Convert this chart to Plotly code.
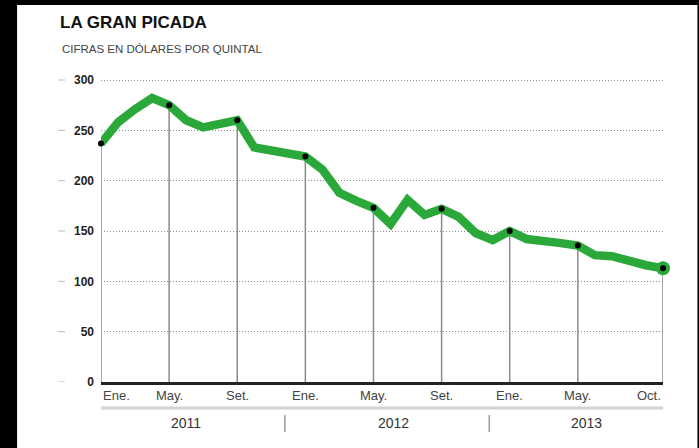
import plotly.graph_objects as go

# ---- data ----
values = [237, 258, 271, 282, 275, 260, 253, 256, 260, 233, 230, 225,
          224, 211, 188, 180, 173, 157, 181, 166, 172, 164, 148, 141,
          150, 142, 139, 138, 135.5, 126, 125, 120, 116, 113]
month_idx = list(range(len(values)))
tick_idx = [0, 4, 8, 12, 16, 20, 24, 28, 33]
tick_text = ["Ene.", "May.", "Set.", "Ene.", "May.", "Set.", "Ene.", "May.", "Oct."]
year_labels = ["2011", "2012", "2013"]
year_centers = [5.0, 17.2, 28.5]
year_breaks = [10.8, 22.8]
y_ticks = [0, 50, 100, 150, 200, 250, 300]

GREEN = "#2aa83a"
FONT = "Liberation Sans, Arial, sans-serif"

fig = go.Figure()

# gray stems from baseline to labelled months
sx, sy = [], []
for i in tick_idx:
    sx += [month_idx[i], month_idx[i], None]
    sy += [0, values[i], None]
fig.add_trace(go.Scatter(x=sx, y=sy, mode="lines", line=dict(color="#8a8a8a", width=1.5),
                         hoverinfo="skip", cliponaxis=False))

fig.add_trace(go.Scatter(x=month_idx, y=values, mode="lines",
                         line=dict(color=GREEN, width=8.5), cliponaxis=False))
fig.add_trace(go.Scatter(x=[month_idx[-1]], y=[values[-1]], mode="markers",
                         marker=dict(color=GREEN, size=14), cliponaxis=False))
fig.add_trace(go.Scatter(x=[month_idx[i] for i in tick_idx], y=[values[i] for i in tick_idx],
                         mode="markers", marker=dict(color="black", size=6), cliponaxis=False))

W, H = 699, 448
YTOP = 302
ml, mr, mb = 101, 35.5, 66
ph_per = 302 / 300.0          # pixels per unit
mt = 80 - (YTOP - 300) * ph_per
pw = W - ml - mr
ph = H - mt - mb


def px_x(p):
    return (p - ml) / pw


def px_y(p):
    return (H - mb - p) / ph


shapes = []
# white panel over black page
shapes.append(dict(type="rect", xref="paper", yref="paper", layer="below",
                   x0=px_x(17), x1=px_x(698), y0=px_y(470), y1=px_y(5),
                   fillcolor="white", line=dict(width=0)))
# small dashes left of y labels
for v in y_ticks:
    shapes.append(dict(type="line", xref="paper", yref="y",
                       x0=px_x(58), x1=px_x(65), y0=v, y1=v,
                       line=dict(color="#bbbbbb", width=1)))
# light gray rule under month labels
shapes.append(dict(type="line", xref="x", yref="paper",
                   x0=0, x1=month_idx[-1], y0=px_y(408), y1=px_y(408),
                   line=dict(color="#d2d2d2", width=3)))
# year separators
for b in year_breaks:
    shapes.append(dict(type="line", xref="x", yref="paper",
                       x0=b, x1=b, y0=px_y(415), y1=px_y(432),
                       line=dict(color="#9a9a9a", width=1.5)))

annotations = []
for k, (i, t) in enumerate(zip(tick_idx, tick_text)):
    anchor = "left" if k == 0 else ("right" if k == len(tick_idx) - 1 else "center")
    annotations.append(dict(x=month_idx[i], y=0, xref="x", yref="y", text=t, showarrow=False,
                            xanchor=anchor, yanchor="middle", yshift=-13,
                            font=dict(family=FONT, size=13, color="#444")))
for c, t in zip(year_centers, year_labels):
    annotations.append(dict(x=c, y=0, xref="x", yref="y", text=t, showarrow=False,
                            xanchor="center", yanchor="middle", yshift=-41,
                            font=dict(family=FONT, size=14, color="#333")))
annotations.append(dict(x=px_x(60), y=px_y(49), xref="paper", yref="paper",
                        text="CIFRAS EN DÓLARES POR QUINTAL", showarrow=False,
                        xanchor="left", yanchor="middle",
                        font=dict(family=FONT, size=11.5, color="#444")))

fig.update_layout(
    width=W, height=H,
    margin=dict(l=ml, r=mr, t=mt, b=mb, pad=0),
    paper_bgcolor="black", plot_bgcolor="white",
    showlegend=False,
    title=dict(text="<b>LA GRAN PICADA</b>", x=60 / W, xanchor="left", xref="container",
               y=1 - 22 / H, yanchor="middle", yref="container",
               font=dict(family=FONT, size=17, color="#111")),
    xaxis=dict(range=[0, month_idx[-1]], showgrid=False, zeroline=False, showticklabels=False,
               showline=True, linecolor="#222", linewidth=2.5, ticks="", fixedrange=True),
    yaxis=dict(range=[0, YTOP], tickvals=y_ticks, showgrid=True, gridcolor="#8c8c8c",
               griddash="1px,2px", gridwidth=1, zeroline=False, showline=False, ticks="",
               ticklabelstandoff=6, fixedrange=True,
               tickfont=dict(family=FONT, size=12, color="#222", weight="bold")),
    shapes=shapes, annotations=annotations,
)

fig.write_html("out.html", config={"displayModeBar": False},
               post_script="document.body.style.margin='0';document.body.style.background='black';")
